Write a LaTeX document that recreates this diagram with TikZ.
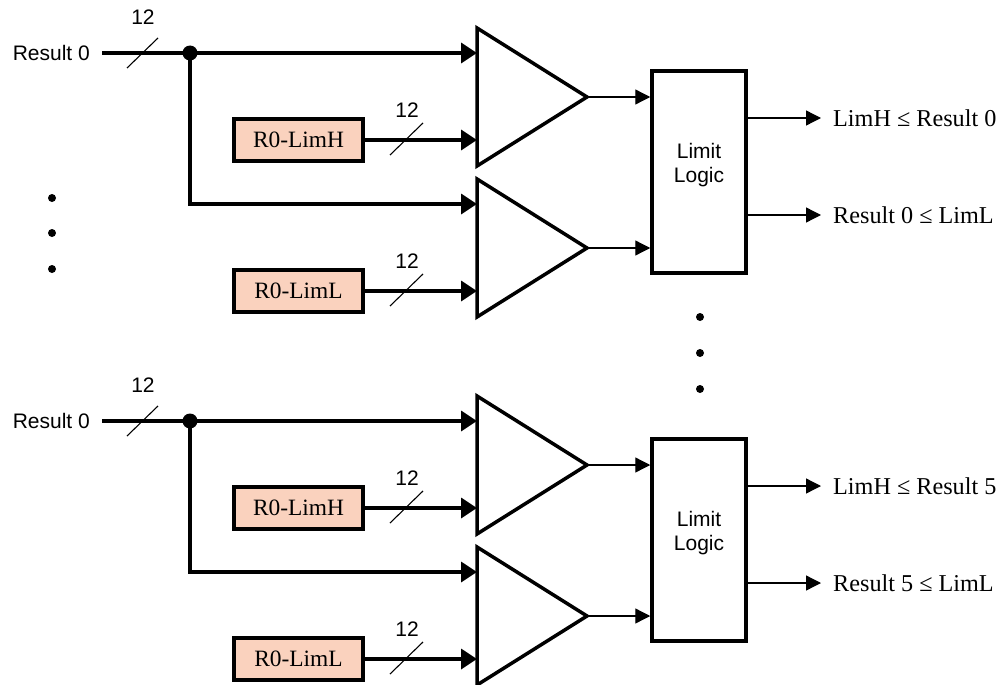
\documentclass[tikz,border=0pt]{standalone}
\usepackage{fontspec}
\newfontfamily\sansf{Liberation Sans}
\newfontfamily\serf{Liberation Serif}
\usetikzlibrary{arrows.meta}
\definecolor{peach}{HTML}{FAD2BE}
\begin{document}
\begin{tikzpicture}[x=1pt,y=-1pt,
 thickline/.style={line width=3.5pt},
 bigarrow/.style={line width=3.5pt,-{Triangle[length=16pt,width=20pt]}},
 smallarrow/.style={line width=1.3pt,-{Triangle[length=15pt,width=15pt]}},
 slashline/.style={line width=1.1pt},
 reg/.style={draw,line width=3.5pt,fill=peach,minimum width=129pt,minimum height=42pt,inner sep=0pt,font=\serf\fontsize{23.4}{26}\selectfont},
 sanslab/.style={font=\sansf\fontsize{21}{24}\selectfont,inner sep=0pt},
 serlab/.style={font=\serf\fontsize{24.2}{26}\selectfont,inner sep=0pt,anchor=west},
 logic/.style={draw,line width=3.5pt,minimum width=94pt,minimum height=202pt,inner sep=0pt},
 amp/.style={line width=3.5pt,line join=miter},
 ell/.style={fill,circle,inner sep=0pt,minimum size=8pt},
 junction/.style={fill,circle,inner sep=0pt,minimum size=15pt}]
\useasboundingbox (0,0) rectangle (1004,685);
% ellipsis dots
\node[ell] (dl1) at (52,198) {};
\node[ell] (dl2) at (52,233) {};
\node[ell] (dl3) at (52,269) {};
\node[ell] (dm1) at (700,317) {};
\node[ell] (dm2) at (700,353) {};
\node[ell] (dm3) at (700,389) {};
\foreach \oy/\n in {0/0,368/5}{
\begin{scope}[yshift=-\oy pt]
 % input
 \node[sanslab,anchor=east] (res\n) at (90,53) {Result 0};
 \coordinate (rs\n) at (102,53);
 \node[junction] (j\n) at (190,53) {};
 \node[sanslab] (n12a\n) at (143,17) {12};
 % comparators
 \draw[amp] (477,28) -- (477,166) -- (587,97) -- cycle;
 \draw[amp] (477,179) -- (477,317) -- (587,248) -- cycle;
 \coordinate (ta\n) at (477,53);
 \coordinate (tc\n) at (477,140);
 \coordinate (tb\n) at (477,204);
 \coordinate (td\n) at (477,291);
 \coordinate (pa\n) at (587,97);
 \coordinate (pb\n) at (587,248);
 % registers
 \node[reg] (bh\n) at (298.5,140) {R0-LimH};
 \node[reg] (bl\n) at (298.5,291) {R0-LimL};
 \node[sanslab] (n12b\n) at (407,110) {12};
 \node[sanslab] (n12c\n) at (407,261) {12};
 % limit logic
 \node[logic] (ll\n) at (699,172) {};
 \node[sanslab,align=center] (lt\n) at (699,165) {Limit\\Logic};
 % connectors
 \draw[thickline] (rs\n) -- (j\n.center);
 \draw[bigarrow] (j\n.center) -- (ta\n);
 \draw[bigarrow] (j\n.center) |- (tb\n);
 \draw[bigarrow] (bh\n.east) -- (tc\n);
 \draw[bigarrow] (bl\n.east) -- (td\n);
 \draw[slashline] (127,68) -- (158,38);
 \draw[slashline] (390,155) -- (423,123);
 \draw[slashline] (390,306) -- (423,274);
 \draw[smallarrow] (pa\n) -- (pa\n -| ll\n.west);
 \draw[smallarrow] (pb\n) -- (pb\n -| ll\n.west);
 \coordinate (oa\n) at (821,118);
 \coordinate (ob\n) at (821,215);
 \draw[smallarrow] (ll\n.east |- oa\n) -- (oa\n);
 \draw[smallarrow] (ll\n.east |- ob\n) -- (ob\n);
 \node[serlab] (la\n) at (833,118) {LimH ≤ Result \n};
 \node[serlab] (lb\n) at (833,215) {Result \n\ ≤ LimL};
\end{scope}
}
\end{tikzpicture}
\end{document}
